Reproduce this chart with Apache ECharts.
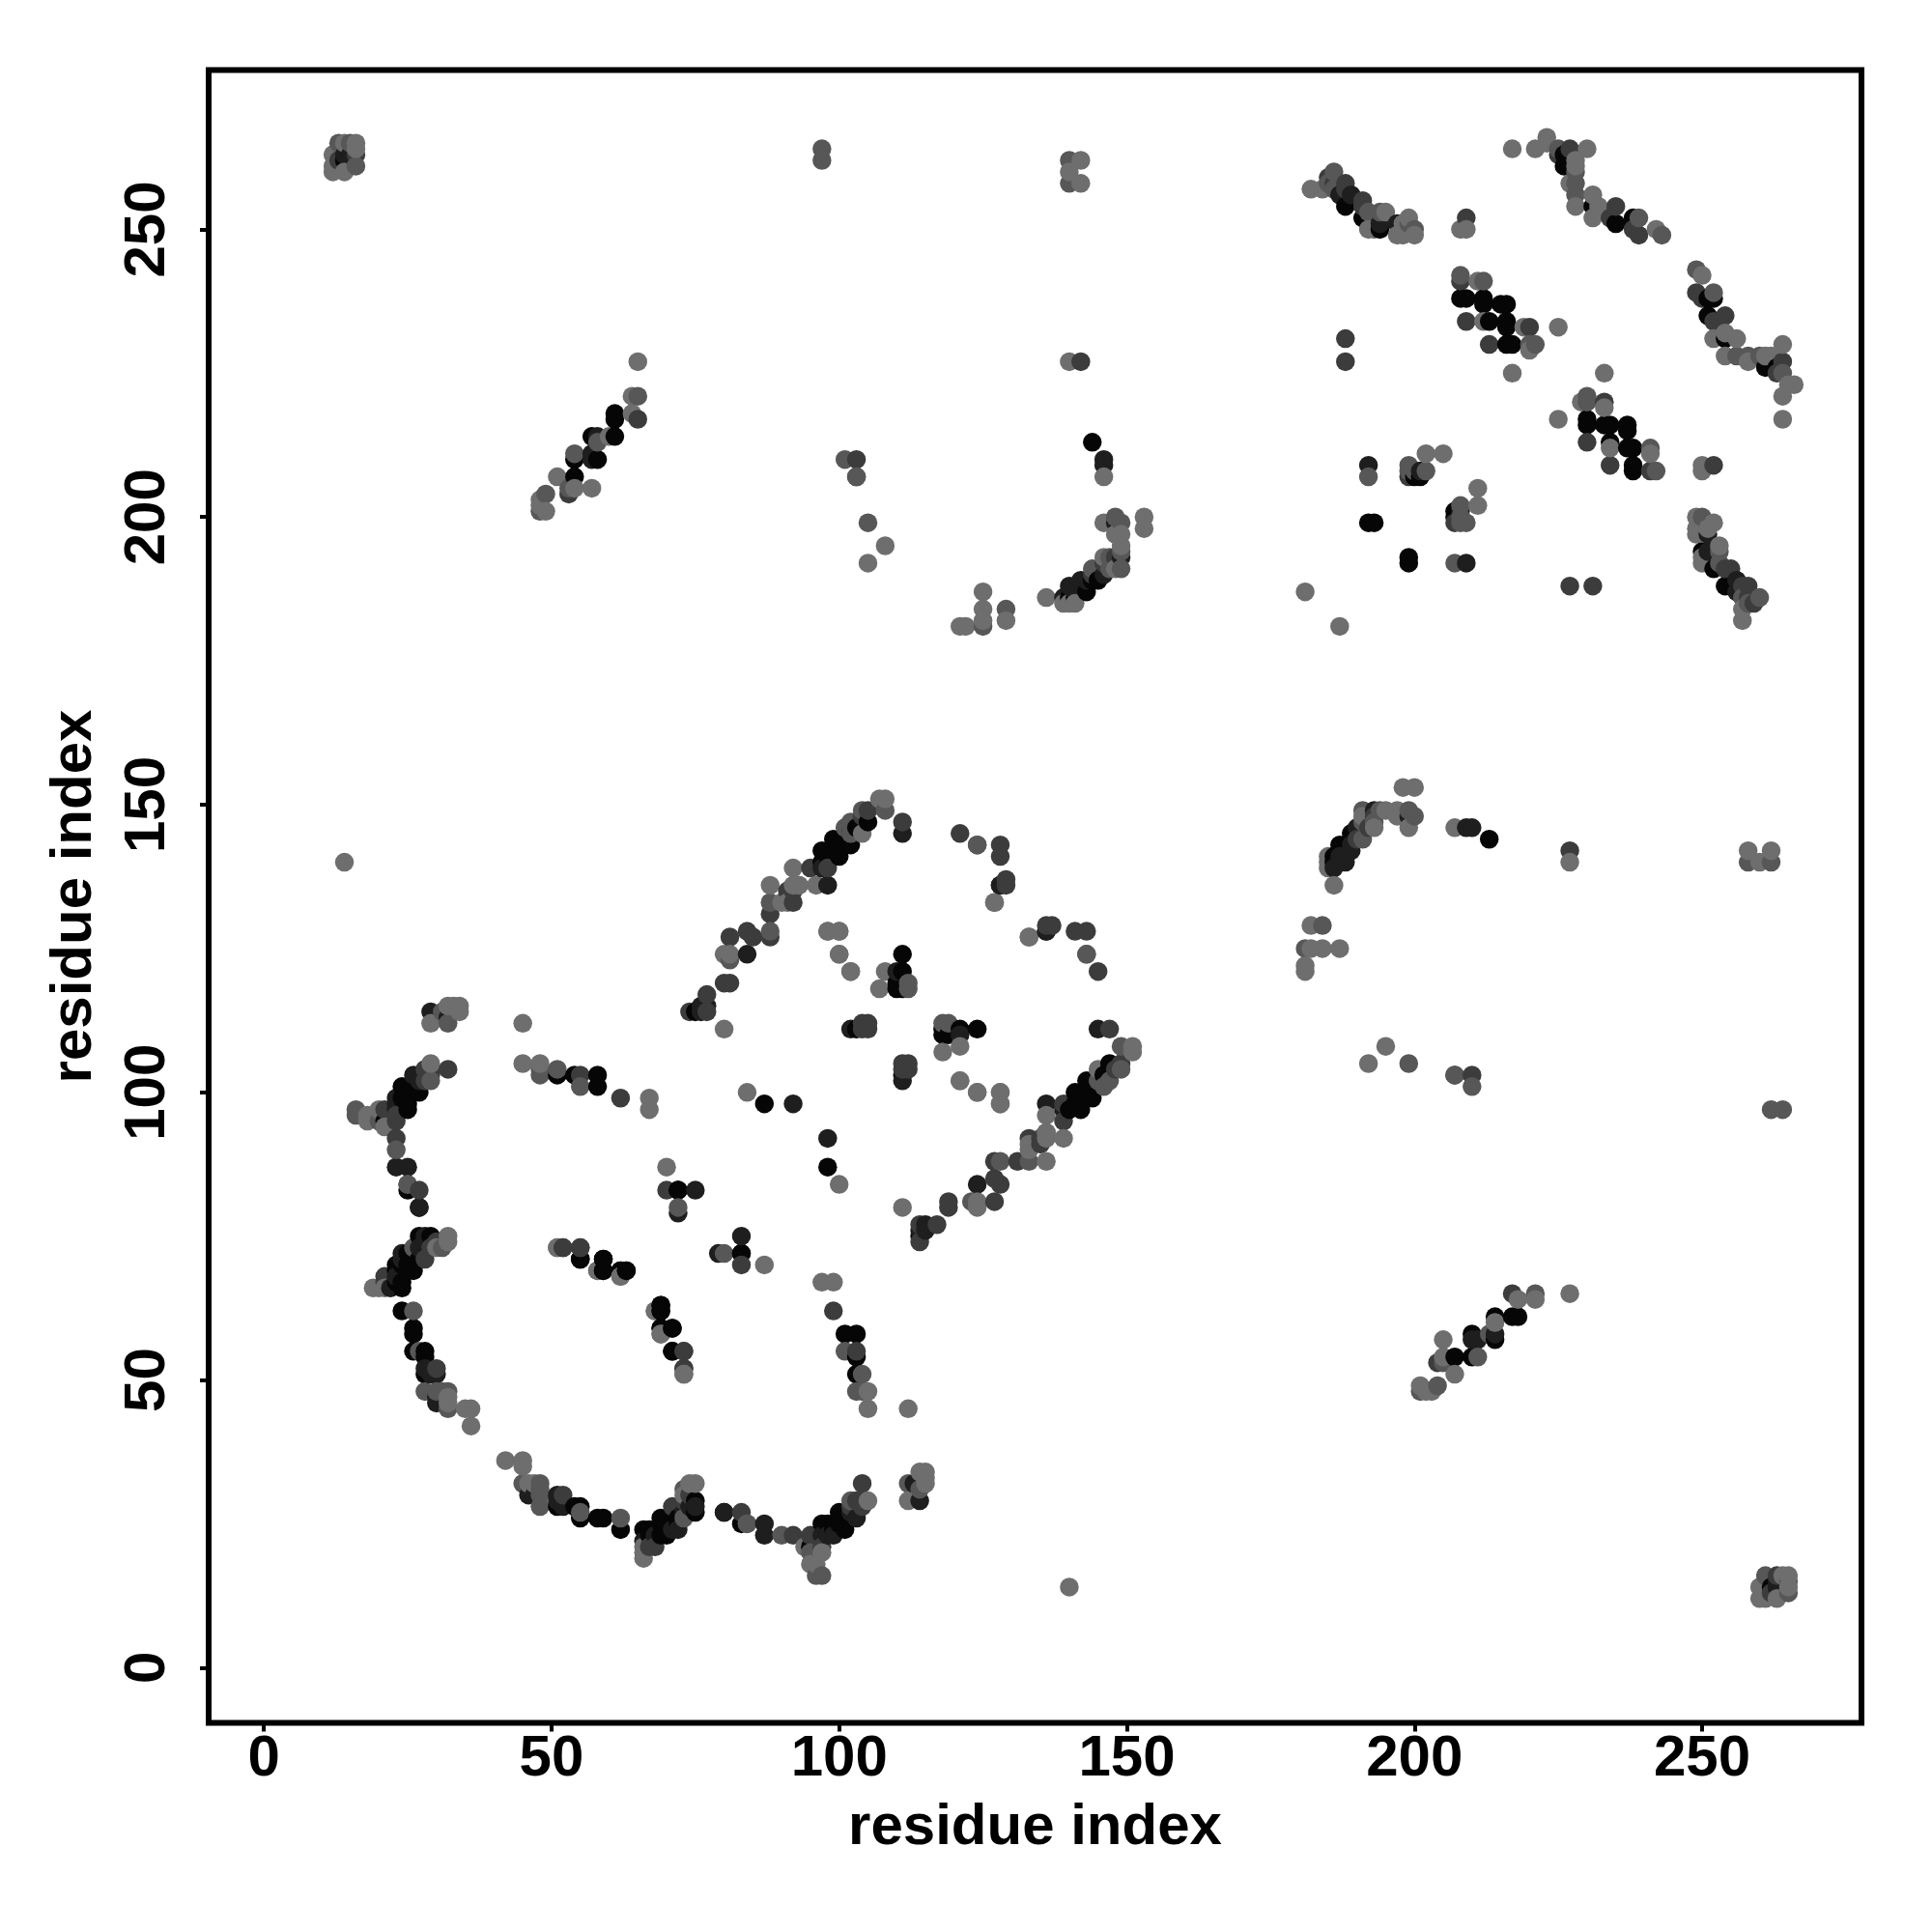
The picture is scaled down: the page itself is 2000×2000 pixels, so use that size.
<!DOCTYPE html>
<html><head><meta charset="utf-8">
<script src="https://cdn.jsdelivr.net/npm/echarts@6/dist/echarts.min.js"></script>
<style>html,body{margin:0;padding:0;background:#fff}#c{width:2000px;height:2000px}</style>
</head><body><div id="c"></div>
<script>
const axisTicks = [0, 50, 100, 150, 200, 250];
const axisTitle = "residue index";
// residue contacts (i < j), grouped by shade; the map is symmetric so each is also drawn as (j, i)
const contactsBlack = [[27,100],[26,101],[24,101],[25,98],[24,99],[25,100],[21,95],[25,83],[27,80],[29,75],[27,75],[27,71],[25,72],[26,69],[25,69],[24,70],[23,70],[24,67],[23,67],[24,62],[26,59],[26,58],[26,55],[28,55],[28,51],[28,54],[24,66],[23,69],[25,70],[26,72],[25,97],[25,99],
[51,103],[58,101],[58,103],[54,103],[55,71],[59,71],[59,69],[62,69],[63,69],[69,63],[69,62],[69,59],[71,59],[71,55],[72,83],[87,98],[111,124],[111,121],[110,118],[111,118],[110,119],[103,111],[75,114],[83,72],
[105,147],[97,142],[99,144],[100,141],[98,141],[101,143],[102,143],[100,143],[103,146],[97,140],
[61,218],[61,217],[61,214],[57,214],[58,210],[54,210],[54,207],[14,262],[145,189],[143,187],[144,189],[141,186],[140,186],[144,213],
[192,199],[193,199],[200,207],[201,207],[188,254],[191,252],[194,250],[226,263],[226,261],[231,254],[235,251],[238,252],[238,251],
[208,238],[209,238],[212,238],[212,237],[215,237],[216,237],[213,234],[216,234],[216,233],[216,230],[217,230]];
const contactsDark = [[29,114],[32,113],[26,103],[27,102],[23,99],[23,97],[23,87],[25,87],[28,75],[27,73],[24,72],[23,68],[24,71],[22,66],[28,74],[28,52],[30,51],[29,51],[30,47],[30,46],[23,98],
[54,103],[80,27],[75,83],[72,79],[92,98],[102,111],[110,121],[77,115],[76,114],[76,115],[84,124],[98,136],[97,139],[102,145],[111,145],[128,136],[136,128],
[57,210],[57,211],[58,214],[15,263],[14,263],[143,189],[142,189],[141,187],[140,188],[139,186],[146,190],[146,209],[146,210],[148,199],[149,193],
[189,256],[187,256],[197,251],[194,251],[192,209],[201,208]];
const contactsCharcoal = [[55,103],[62,99],[29,103],[32,104],[28,104],[21,97],[23,95],[23,92],[27,83],[29,73],[30,74],[28,71],[21,68],[21,67],[30,52],[23,96],[28,102],[29,104],
[52,73],[55,73],[73,55],[73,52],[70,83],[80,119],[81,119],[77,117],[74,114],[77,114],[104,111],[105,111],[104,112],[105,112],[121,145],[128,143],[128,141],[129,137],[129,136],[91,135],[92,135],[92,133],[88,131],[88,127],[84,128],[85,127],[81,127],[95,139],[98,139],[104,148],[105,149],[111,147],
[65,217],[53,204],[13,262],[16,263],[142,227],[103,210],[144,190],[146,192],[148,193],
[188,231],[188,227],[199,207],[185,259],[188,258],[188,257],[186,258],[191,255],[191,254],[235,254],[234,252],[239,249],[238,250],[225,263],[227,264],[209,234],[220,233],[213,230],[208,241],[209,252],[207,103]];
const contactsSlate = [[32,112],[31,114],[48,103],[51,104],[55,101],[48,104],[29,102],[16,97],[16,96],[23,90],[25,84],[31,73],[26,73],[26,62],[27,55],[28,48],[30,48],[31,48],[32,48],[32,45],[20,95],
[69,58],[112,118],[112,119],[84,25],[72,80],[108,149],[104,149],[101,146],[102,147],[88,133],[88,128],[81,123],[124,143],[143,124],[145,102],
[65,221],[58,213],[54,211],[53,205],[49,204],[48,201],[13,265],[15,265],[16,261],[97,264],[97,262],[140,258],[140,262],[101,210],[103,207],[105,199],
[148,200],[149,199],[149,194],[149,191],[147,191],[147,193],[144,191],[129,184],[125,181],
[192,207],[199,209],[199,208],[200,208],[202,208],[186,260],[185,258],[194,253],[192,253],[186,257],[200,250],[199,251],
[228,260],[228,258],[228,256],[225,264],[239,252],[243,249],[208,242],[212,241],[221,230],[220,230]];
const contactsGrey = [[29,112],[32,115],[33,115],[34,115],[34,114],[45,112],[45,105],[48,105],[58,103],[67,99],[67,97],[80,111],[29,105],[20,97],[18,96],[18,95],[21,94],[32,75],[32,74],[30,73],[21,66],[19,66],[20,66],[32,47],[32,46],[35,45],[36,45],[36,42],
[51,73],[58,69],[62,68],[68,62],[73,51],[70,87],[84,100],[98,128],[100,128],[100,124],[102,121],[108,121],[107,118],[121,102],[124,100],[128,100],[128,98],
[107,151],[108,151],[104,145],[92,139],[88,136],[93,136],[96,136],[92,136],[90,133],[91,133],[80,124],[81,124],[127,133],[136,93],[133,127],
[65,227],[64,221],[64,218],[60,214],[51,207],[57,205],[54,205],[48,203],[48,202],[49,201],
[12,261],[12,263],[14,265],[14,260],[12,260],[16,265],[16,264],[14,140],[140,260],[142,258],[142,262],[140,227],[108,195],[105,192],
[146,207],[153,200],[153,198],[146,199],[149,197],[149,195],[148,197],[148,191],[146,193],[149,199],[141,185],[140,185],[139,185],[136,186],[125,187],[125,184],[125,182],[121,181],[122,181],[129,182],
[181,187],[202,211],[205,211],[182,257],[184,257],[192,250],[195,253],[193,250],[199,252],[198,251],[197,249],[198,249],[200,249],[208,250],[209,250],
[217,264],[221,264],[223,266],[223,265],[230,264],[228,262],[228,261],[227,258],[228,254],[231,256],[231,252],[232,254],[242,250],[211,241],[212,234],[219,233],[220,229],[225,233],[217,225]];

const shades = [
  [contactsBlack, "#060606"], [contactsDark, "#1e1e1e"], [contactsCharcoal, "#3c3c3c"],
  [contactsSlate, "#575757"], [contactsGrey, "#6e6e6e"]
];
const seen = new Set(), points = [];
shades.forEach(([list, color]) => list.forEach(([i, j]) => {
  const k = i + "," + j;
  if (seen.has(k)) return;
  seen.add(k);
  points.push({ value: [i, j], itemStyle: { color } }, { value: [j, i], itemStyle: { color } });
}));
points.sort((a, b) => a.value[0] - b.value[0]);

const labelFont = { fontFamily: "Liberation Sans", fontWeight: "bold", fontSize: 60, color: "#000" };
function axis(extra) {
  return Object.assign({
    type: "value", min: -9.6, max: 277.7, splitLine: { show: false }, axisLine: { show: false, onZero: false },
    axisTick: { show: true, inside: false, length: 9, customValues: axisTicks, lineStyle: { color: "#000", width: 4 } },
    name: axisTitle, nameLocation: "middle", nameTextStyle: labelFont
  }, extra);
}
const chart = echarts.init(document.getElementById("c"), null, { renderer: "canvas" });
chart.setOption({
  animation: false, backgroundColor: "#fff",
  grid: { left: 216, top: 72.5, width: 1711, height: 1711, show: true, borderWidth: 6, borderColor: "#000", backgroundColor: "#fff" },
  xAxis: axis({ nameGap: 79, axisLabel: Object.assign({ margin: 8, customValues: axisTicks, showMinLabel: true, showMaxLabel: true }, labelFont) }),
  yAxis: axis({ nameGap: 109, axisLabel: Object.assign({ margin: 33, rotate: 90, customValues: axisTicks, showMinLabel: true, showMaxLabel: true }, labelFont) }),
  series: [{ type: "scatter", symbol: "circle", symbolSize: 19.5, data: points, silent: true, itemStyle: { opacity: 1 } }]
});
</script></body></html>
